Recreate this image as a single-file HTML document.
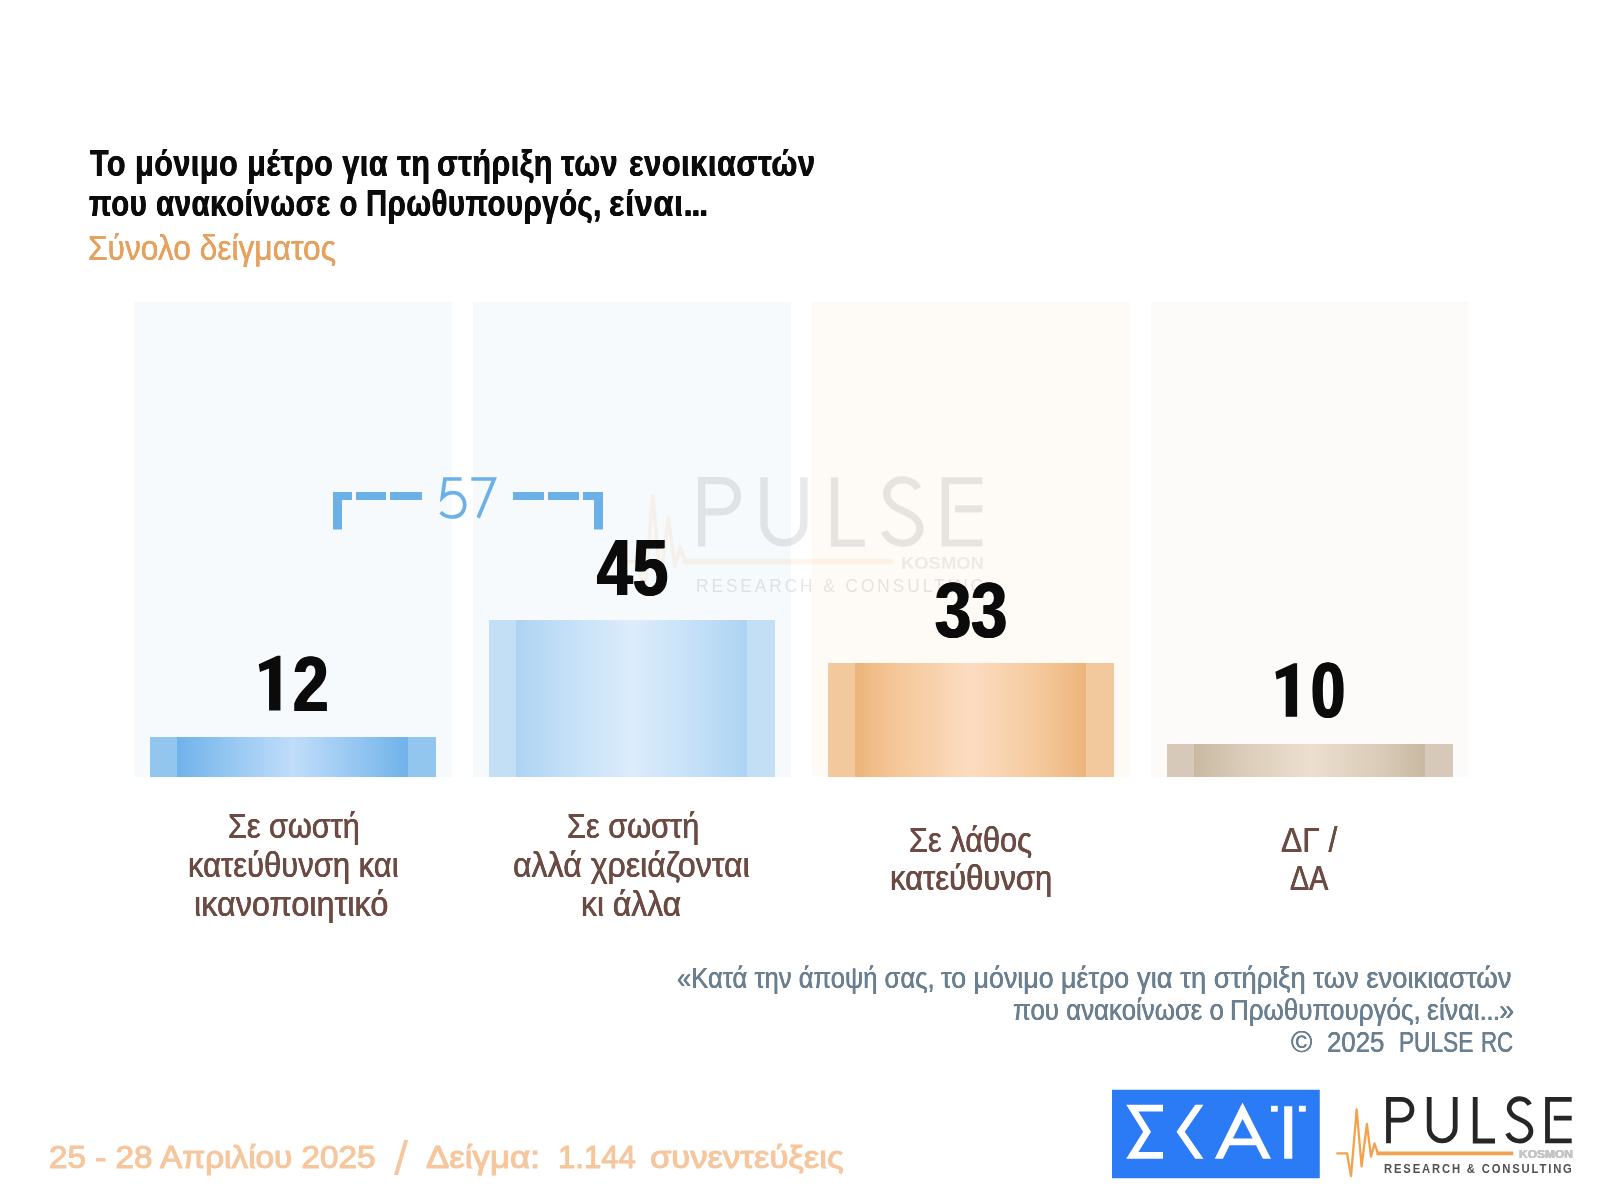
<!DOCTYPE html>
<html lang="el"><head><meta charset="utf-8"><title>Pulse RC</title>
<style>
html,body{margin:0;padding:0;background:#fff;}
body{width:1600px;height:1200px;overflow:hidden;font-family:"Liberation Sans",sans-serif;}
#page{will-change:transform;position:relative;width:1600px;height:1200px;background:#fff;overflow:hidden;}
.t{position:absolute;line-height:1;transform-origin:0 0;margin:0;padding:0;white-space:nowrap;}
.el{letter-spacing:-1.5px;}
.el2{letter-spacing:-1px;}
.panel{position:absolute;top:302px;height:475px;width:318px;}
.pb{background:#f6fafd;}
.po{background:#fefbf7;}
.pg{background:#fcfbf9;}
.bar{position:absolute;width:286px;}
svg{position:absolute;overflow:visible;}
</style></head>
<body>
<div id="page">
<div class="panel pb" style="left:134px"></div>
<div class="panel pb" style="left:473px"></div>
<div class="panel po" style="left:812px"></div>
<div class="panel pg" style="left:1151px"></div>
<div class="bar" style="left:150px;top:737px;height:40px;background:linear-gradient(90deg,#93c6ef 0,#93c6ef 27px,#70b2ea 27px,#92c5f1 75px,#c0ddfa 143px,#92c5f1 211px,#70b2ea 258px,#93c6ef 258px,#93c6ef 286px)"></div>
<div class="bar" style="left:489px;top:620px;height:157px;background:linear-gradient(90deg,#c2dff6 0,#c2dff6 27px,#add3f3 27px,#c2dff7 75px,#dcecfb 143px,#c2dff7 211px,#add3f3 258px,#c2dff6 258px,#c2dff6 286px)"></div>
<div class="bar" style="left:828px;top:663px;height:114px;background:linear-gradient(90deg,#f1c99d 0,#f1c99d 27px,#edb47b 27px,#f5c99c 75px,#fcdcc1 143px,#f5c99c 211px,#edb47b 258px,#f1c99d 258px,#f1c99d 286px)"></div>
<div class="bar" style="left:1167px;top:744px;height:33px;background:linear-gradient(90deg,#d6c9ba 0,#d6c9ba 27px,#c9b9a2 27px,#daccb9 75px,#ecdfcd 143px,#daccb9 211px,#c9b9a2 258px,#d6c9ba 258px,#d6c9ba 286px)"></div>
<svg width="1600" height="1200" style="left:0;top:0" viewBox="0 0 1600 1200">
<g transform="translate(701.6,477.3) scale(1.533,1.5) translate(-1388.5,-1097.1)" fill="none" stroke-linejoin="miter" stroke-linecap="butt">
<g stroke="#262626" stroke-width="4.8" opacity="0.1">
<path d="M1388.5,1143.3 L1388.5,1099.3 L1401.6,1099.3 A10.4,10.4 0 0 1 1401.6,1120.1 L1388.5,1120.1"/>
<path d="M1429.2,1097.1 L1429.2,1127.8 A13,13 0 0 0 1455.2,1127.8 L1455.2,1097.1"/>
<path d="M1475.2,1097.1 L1475.2,1141 L1495,1141"/>
<path d="M1529.6,1104.6 C1526.5,1098.2 1516.5,1096.6 1511.6,1102.2 C1506.8,1107.8 1509.6,1114.6 1517.2,1118.2 L1523.4,1121.2 C1531.6,1125.2 1533.2,1133 1527.6,1138.2 C1521.8,1143.2 1511.2,1141.6 1507.6,1133.2"/>
<path d="M1571.7,1099.4 L1547.5,1099.4 L1547.5,1140.9 L1571.7,1140.9 M1553.8,1118.1 L1571.7,1118.1"/>
</g>
<g stroke="#f2a24e" opacity="0.11">
<path stroke-width="3.8" d="M1376.5,1153.3 L1513.3,1153.3"/>
<path stroke-width="2.3" stroke-linejoin="round" d="M1336.4,1153.3 L1347,1153.3 L1351,1176 L1356.7,1109.4 L1361.6,1166.3 L1366.9,1124 L1371,1156.5 L1374.6,1143.5 L1377.8,1153.3"/>
</g></g>
<g fill="#6cb0e8">
<rect x="333" y="492" width="19" height="8"/>
<rect x="356" y="492" width="30" height="8"/>
<rect x="390" y="492" width="32" height="8"/>
<rect x="513" y="492" width="31" height="8"/>
<rect x="548" y="492" width="31" height="8"/>
<rect x="583" y="492" width="20" height="8"/>
<rect x="333" y="492" width="9" height="37.5"/>
<rect x="594" y="492" width="9" height="37.5"/>
</g>
<g fill="none" stroke="#6cb0e8" stroke-width="3.7" stroke-linejoin="miter"><title>57</title>
<path d="M461.6,479 L444.9,479 L442.4,497.2 C445.6,493.9 449.3,492.6 453,492.6 C460,492.6 464.7,498 464.7,504.8 C464.7,512 459.6,517 452.6,517 C447.2,517 443.2,514.9 440.6,512.2"/>
<path d="M471.3,479 L494.2,479 L478.2,517.8"/>
</g>
<polygon fill="#0b0b0b" points="280.45,655.75 280.45,710.50 269.05,710.50 269.05,668.55 259.95,671.95 258.75,664.25 277.25,655.75"/>
<polygon fill="#0b0b0b" points="1297.10,663.30 1297.10,716.75 1285.70,716.75 1285.70,676.10 1276.60,679.50 1275.40,671.80 1293.90,663.30"/>
<rect x="1112" y="1089.75" width="207.75" height="88.5" fill="#2b7af6"/>
<g fill="#fff">
<polygon points="1126.25,1104.75 1163,1104.75 1163,1111.5 1138.43,1111.5 1151,1131.75 1138.43,1152 1163,1152 1163,1158.75 1126.25,1158.75 1143.1,1131.75"/>
<polygon points="1195.25,1104.75 1203.5,1104.75 1184.75,1131.75 1203.5,1158.75 1195.25,1158.75 1176.5,1131.75"/>
<path fill-rule="evenodd" d="M1214.75,1158.75 L1242.5,1102.5 L1271,1158.75 L1262.8,1158.75 L1256.0,1145.25 L1229.6,1145.25 L1222.95,1158.75 Z M1232.9,1138.5 L1252.6,1138.5 L1242.6,1118.9 Z"/>
<rect x="1284.2" y="1106.25" width="8.1" height="52.5"/>
<rect x="1271" y="1105.8" width="6.75" height="5.9"/>
<rect x="1298.9" y="1105.8" width="6.9" height="5.9"/>
</g>
<g transform="" fill="none" stroke-linejoin="miter" stroke-linecap="butt">
<g stroke="#262626" stroke-width="4.8" opacity="1">
<path d="M1388.5,1143.3 L1388.5,1099.3 L1401.6,1099.3 A10.4,10.4 0 0 1 1401.6,1120.1 L1388.5,1120.1"/>
<path d="M1429.2,1097.1 L1429.2,1127.8 A13,13 0 0 0 1455.2,1127.8 L1455.2,1097.1"/>
<path d="M1475.2,1097.1 L1475.2,1141 L1495,1141"/>
<path d="M1529.6,1104.6 C1526.5,1098.2 1516.5,1096.6 1511.6,1102.2 C1506.8,1107.8 1509.6,1114.6 1517.2,1118.2 L1523.4,1121.2 C1531.6,1125.2 1533.2,1133 1527.6,1138.2 C1521.8,1143.2 1511.2,1141.6 1507.6,1133.2"/>
<path d="M1571.7,1099.4 L1547.5,1099.4 L1547.5,1140.9 L1571.7,1140.9 M1553.8,1118.1 L1571.7,1118.1"/>
</g>
<g stroke="#f2a24e" opacity="1">
<path stroke-width="3.8" d="M1376.5,1153.3 L1513.3,1153.3"/>
<path stroke-width="2.3" stroke-linejoin="round" d="M1336.4,1153.3 L1347,1153.3 L1351,1176 L1356.7,1109.4 L1361.6,1166.3 L1366.9,1124 L1371,1156.5 L1374.6,1143.5 L1377.8,1153.3"/>
</g></g>
</svg>
<div class="t" style="left:695.62px;top:576.50px;letter-spacing:3.2px;font-size:18.5px;font-weight:400;color:rgba(40,44,48,0.12);transform:scaleX(0.9310)">RESEARCH &amp; CONSULTING</div>
<div class="t" style="left:900.91px;top:555.60px;font-size:16px;font-weight:700;color:rgba(60,60,60,0.085);transform:scaleX(1.1507)">KOSMON</div>
<div class="t" style="left:1384.41px;top:1163.30px;letter-spacing:2.0px;font-size:12.2px;font-weight:700;color:#505050;transform:scaleX(0.9225)">RESEARCH &amp; CONSULTING</div>
<div class="t" style="left:1518.57px;top:1148.80px;font-size:10.5px;font-weight:700;color:#c2c4c6;text-shadow:0.44px 0 0 #c2c4c6,-0.44px 0 0 #c2c4c6;transform:scaleX(1.1405)">KOSMON</div>
<div class="t" style="left:89.52px;top:144.50px;letter-spacing:0.7px;font-size:37.5px;font-weight:700;color:#0b0b0b;text-shadow:0.43px 0 0 #0b0b0b,-0.43px 0 0 #0b0b0b;transform:scaleX(0.8111)">Το μόνιμο μέτρο για τη</div>
<div class="t" style="left:437.28px;top:144.50px;letter-spacing:0.7px;font-size:37.5px;font-weight:700;color:#0b0b0b;text-shadow:0.43px 0 0 #0b0b0b,-0.43px 0 0 #0b0b0b;transform:scaleX(0.8085)">στήριξη</div>
<div class="t" style="left:561.38px;top:144.50px;letter-spacing:0.7px;font-size:37.5px;font-weight:700;color:#0b0b0b;text-shadow:0.43px 0 0 #0b0b0b,-0.43px 0 0 #0b0b0b;transform:scaleX(0.8117)">των</div>
<div class="t" style="left:628.73px;top:144.50px;letter-spacing:0.7px;font-size:37.5px;font-weight:700;color:#0b0b0b;text-shadow:0.43px 0 0 #0b0b0b,-0.43px 0 0 #0b0b0b;transform:scaleX(0.8187)">ενοικιαστών</div>
<div class="t" style="left:89.05px;top:184.70px;letter-spacing:0.7px;font-size:37.5px;font-weight:700;color:#0b0b0b;text-shadow:0.45px 0 0 #0b0b0b,-0.45px 0 0 #0b0b0b;transform:scaleX(0.7836)">που ανακοίνωσε ο</div>
<div class="t" style="left:366.17px;top:184.70px;letter-spacing:0.7px;font-size:37.5px;font-weight:700;color:#0b0b0b;text-shadow:0.45px 0 0 #0b0b0b,-0.45px 0 0 #0b0b0b;transform:scaleX(0.7799)">Πρωθυπουργός,</div>
<div class="t" style="left:609.36px;top:184.70px;letter-spacing:0.7px;font-size:37.5px;font-weight:700;color:#0b0b0b;text-shadow:0.40px 0 0 #0b0b0b,-0.40px 0 0 #0b0b0b;transform:scaleX(0.8672)">είναι<span class="el">...</span></div>
<div class="t" style="left:88.10px;top:229.60px;font-size:35px;font-weight:400;color:#e5a15e;text-shadow:0.22px 0 0 #e5a15e,-0.22px 0 0 #e5a15e;transform:scaleX(0.9062)">Σύνολο δείγματος</div>
<div class="t" style="left:292.79px;top:644.50px;font-size:78.5px;font-weight:700;color:#0b0b0b;text-shadow:1.11px 0 0 #0b0b0b,-1.11px 0 0 #0b0b0b;transform:scaleX(0.8124)">2</div>
<div class="t" style="left:596.51px;top:528.10px;font-size:79px;font-weight:700;color:#0b0b0b;text-shadow:1.11px 0 0 #0b0b0b,-1.11px 0 0 #0b0b0b;transform:scaleX(0.8097)">45</div>
<div class="t" style="left:935.04px;top:571.50px;font-size:77.5px;font-weight:700;color:#0b0b0b;text-shadow:1.07px 0 0 #0b0b0b,-1.07px 0 0 #0b0b0b;transform:scaleX(0.8402)">33</div>
<div class="t" style="left:1310.73px;top:651.60px;font-size:77px;font-weight:700;color:#0b0b0b;text-shadow:1.13px 0 0 #0b0b0b,-1.13px 0 0 #0b0b0b;transform:scaleX(0.7976)">0</div>
<div class="t" style="left:227.50px;top:809.30px;font-size:34.2px;font-weight:400;color:#6b4b43;text-shadow:0.34px 0 0 #6b4b43,-0.34px 0 0 #6b4b43;transform:scaleX(0.8945)">Σε σωστή</div>
<div class="t" style="left:187.53px;top:848.30px;font-size:34.2px;font-weight:400;color:#6b4b43;text-shadow:0.33px 0 0 #6b4b43,-0.33px 0 0 #6b4b43;transform:scaleX(0.9064)">κατεύθυνση και</div>
<div class="t" style="left:194.28px;top:887.40px;font-size:34.2px;font-weight:400;color:#6b4b43;text-shadow:0.32px 0 0 #6b4b43,-0.32px 0 0 #6b4b43;transform:scaleX(0.9474)">ικανοποιητικό</div>
<div class="t" style="left:567.07px;top:809.30px;font-size:34.2px;font-weight:400;color:#6b4b43;text-shadow:0.33px 0 0 #6b4b43,-0.33px 0 0 #6b4b43;transform:scaleX(0.8979)">Σε σωστή</div>
<div class="t" style="left:513.30px;top:848.30px;font-size:34.2px;font-weight:400;color:#6b4b43;text-shadow:0.32px 0 0 #6b4b43,-0.32px 0 0 #6b4b43;transform:scaleX(0.9395)">αλλά χρειάζονται</div>
<div class="t" style="left:580.95px;top:887.40px;font-size:34.2px;font-weight:400;color:#6b4b43;text-shadow:0.32px 0 0 #6b4b43,-0.32px 0 0 #6b4b43;transform:scaleX(0.9321)">κι άλλα</div>
<div class="t" style="left:908.86px;top:822.60px;font-size:34.2px;font-weight:400;color:#6b4b43;text-shadow:0.33px 0 0 #6b4b43,-0.33px 0 0 #6b4b43;transform:scaleX(0.8996)">Σε λάθος</div>
<div class="t" style="left:889.52px;top:861.30px;font-size:34.2px;font-weight:400;color:#6b4b43;text-shadow:0.33px 0 0 #6b4b43,-0.33px 0 0 #6b4b43;transform:scaleX(0.9075)">κατεύθυνση</div>
<div class="t" style="left:1280.91px;top:822.60px;font-size:34.2px;font-weight:400;color:#6b4b43;text-shadow:0.32px 0 0 #6b4b43,-0.32px 0 0 #6b4b43;transform:scaleX(0.9286)">ΔΓ /</div>
<div class="t" style="left:1290.12px;top:861.30px;font-size:34.2px;font-weight:400;color:#6b4b43;text-shadow:0.36px 0 0 #6b4b43,-0.36px 0 0 #6b4b43;transform:scaleX(0.8375)">ΔΑ</div>
<div class="t" style="left:676.60px;top:962.80px;font-size:30.2px;font-weight:400;color:#6a7f8f;text-shadow:0.29px 0 0 #6a7f8f,-0.29px 0 0 #6a7f8f;transform:scaleX(0.8478)">«Κατά την άποψή σας,</div>
<div class="t" style="left:940.92px;top:962.80px;font-size:30.2px;font-weight:400;color:#6a7f8f;text-shadow:0.28px 0 0 #6a7f8f,-0.28px 0 0 #6a7f8f;transform:scaleX(0.8875)">το μόνιμο μέτρο</div>
<div class="t" style="left:1136.79px;top:962.80px;font-size:30.2px;font-weight:400;color:#6a7f8f;text-shadow:0.28px 0 0 #6a7f8f,-0.28px 0 0 #6a7f8f;transform:scaleX(0.9059)">για τη στήριξη των ενοικιαστών</div>
<div class="t" style="left:1012.79px;top:995.10px;font-size:30.2px;font-weight:400;color:#6a7f8f;text-shadow:0.29px 0 0 #6a7f8f,-0.29px 0 0 #6a7f8f;transform:scaleX(0.8567)">που ανακοίνωσε ο</div>
<div class="t" style="left:1230.22px;top:995.10px;font-size:30.2px;font-weight:400;color:#6a7f8f;text-shadow:0.29px 0 0 #6a7f8f,-0.29px 0 0 #6a7f8f;transform:scaleX(0.8606)">Πρωθυπουργός,</div>
<div class="t" style="left:1427.20px;top:995.10px;font-size:30.2px;font-weight:400;color:#6a7f8f;text-shadow:0.28px 0 0 #6a7f8f,-0.28px 0 0 #6a7f8f;transform:scaleX(0.8852)">είναι<span class="el2">...</span>»</div>
<div class="t" style="left:1290.81px;top:1027.25px;font-size:30.2px;font-weight:400;color:#6a7f8f;text-shadow:0.21px 0 0 #6a7f8f,-0.21px 0 0 #6a7f8f;transform:scaleX(0.9568)">©</div>
<div class="t" style="left:1326.76px;top:1027.25px;font-size:30.2px;font-weight:400;color:#6a7f8f;text-shadow:0.29px 0 0 #6a7f8f,-0.29px 0 0 #6a7f8f;transform:scaleX(0.8551)">2025</div>
<div class="t" style="left:1398.59px;top:1027.25px;font-size:30.2px;font-weight:400;color:#6a7f8f;text-shadow:0.33px 0 0 #6a7f8f,-0.33px 0 0 #6a7f8f;transform:scaleX(0.7500)">PULSE</div>
<div class="t" style="left:1480.70px;top:1027.25px;font-size:30.2px;font-weight:400;color:#6a7f8f;text-shadow:0.34px 0 0 #6a7f8f,-0.34px 0 0 #6a7f8f;transform:scaleX(0.7394)">RC</div>
<div class="t" style="left:48.87px;top:1142.20px;-webkit-text-stroke:1.1px #f6c69d;font-size:31.5px;font-weight:400;color:#f6c69d;transform:scaleX(1.0565)">25 - 28 Απριλίου 2025</div>
<div class="t" style="left:393.63px;top:1134.40px;font-size:49px;font-weight:400;color:#f6c69d;transform:scaleX(1.0428)">/</div>
<div class="t" style="left:426.43px;top:1142.20px;-webkit-text-stroke:1.1px #f6c69d;font-size:31.5px;font-weight:400;color:#f6c69d;transform:scaleX(1.1060)">Δείγμα:</div>
<div class="t" style="left:557.77px;top:1142.20px;-webkit-text-stroke:1.1px #f6c69d;font-size:31.5px;font-weight:400;color:#f6c69d;transform:scaleX(0.9874)">1.144</div>
<div class="t" style="left:649.61px;top:1142.20px;-webkit-text-stroke:1.1px #f6c69d;font-size:31.5px;font-weight:400;color:#f6c69d;transform:scaleX(1.0988)">συνεντεύξεις</div>
</div>
</body></html>
